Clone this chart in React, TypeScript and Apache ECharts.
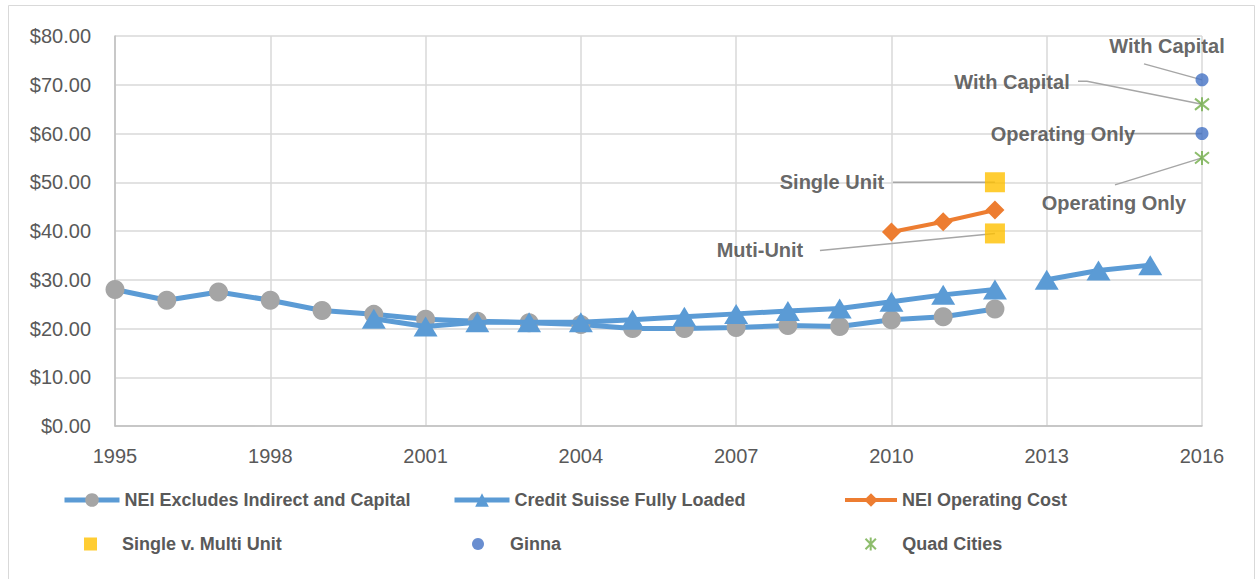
import React, { useEffect, useRef } from "react";
import * as echarts from "echarts";

// ---- Data ----
const neiExcludesYears = [1995, 1996, 1997, 1998, 1999, 2000, 2001, 2002, 2003, 2004, 2005, 2006, 2007, 2008, 2009, 2010, 2011, 2012];
const neiExcludesValues = [28.0, 25.8, 27.5, 25.8, 23.7, 22.9, 21.9, 21.5, 21.2, 20.8, 20.0, 20.0, 20.2, 20.6, 20.4, 21.8, 22.4, 24.0];

const creditSuisseYears = [2000, 2001, 2002, 2003, 2004, 2005, 2006, 2007, 2008, 2009, 2010, 2011, 2012];
const creditSuisseValues = [22.0, 20.4, 21.3, 21.3, 21.3, 21.8, 22.4, 23.0, 23.6, 24.1, 25.5, 26.9, 28.0];
const creditSuisseLaterYears = [2013, 2014, 2015];
const creditSuisseLaterValues = [30.0, 31.9, 33.0];

const neiOperatingYears = [2010, 2011, 2012];
const neiOperatingValues = [39.8, 41.9, 44.3];

const singleMultiYears = [2012, 2012];
const singleMultiValues = [50.0, 39.5];
const singleMultiLabels = ["Single Unit", "Muti-Unit"];

const ginnaYears = [2016, 2016];
const ginnaValues = [71, 60];
const ginnaLabels = ["With Capital", "Operating Only"];

const quadYears = [2016, 2016];
const quadValues = [66, 55];
const quadLabels = ["With Capital", "Operating Only"];

const seriesNames = [
  "NEI Excludes Indirect and Capital",
  "Credit Suisse Fully Loaded",
  "NEI Operating Cost",
  "Single v. Multi Unit",
  "Ginna",
  "Quad Cities",
];

// ---- Layout (label offsets and leader-line bends in px relative to the point) ----
const singleMultiOffsets = [[-163, 0], [-235, 17]];
const ginnaOffsets = [[-35, -34], [-139, 0]];
const quadOffsets = [[-190, -22], [-88, 45]];

const singleMultiLeaders = [[[-102, 0]], [[-175, 17]]];
const ginnaLeaders = [[[-58, -16]], [[-75, 0]]];
const quadLeaders = [[[-124, -23], [-115, -23]], [[-87, 27]]];

const pair = (xs: number[], ys: number[]) => xs.map((x, i) => [x, ys[i]]);
const labeled = (xs: number[], ys: number[], labels: string[]) =>
  xs.map((x, i) => ({ value: [x, ys[i]], name: labels[i] }));

const BLUE = "#5b9bd5";
const GREY = "#a5a5a5";
const ORANGE = "#ed7d31";
const YELLOW = "#ffc000";
const DBLUE = "#4472c4";
const GREEN = "#70ad47";
const FONT = "'Liberation Sans', Arial, sans-serif";

const dataLabel = {
  show: true,
  position: "inside" as const,
  formatter: "{b}",
  color: "#404040",
  fontFamily: FONT,
  fontWeight: "bold" as const,
  fontSize: 20,
};
const layoutFrom = (offs: number[][]) => (p: any) => ({ dx: offs[p.dataIndex][0], dy: offs[p.dataIndex][1] });

const asterisk = "path://M1,1L9,9M9,1L1,9M5,0L5,10";

export default function App() {
  const ref = useRef<HTMLDivElement>(null);
  useEffect(() => {
    if (!ref.current) return;
    const chart = echarts.init(ref.current, undefined, { renderer: "svg" });
    const legendText = { color: "#595959", fontFamily: FONT, fontWeight: "bold" as const, fontSize: 18 };
    const legendPos = [
      { left: 62, top: 491, w: 55, h: 17, pad: 0, lw: 5 },
      { left: 452, top: 491, w: 55, h: 17, pad: 0, lw: 5 },
      { left: 843, top: 491, w: 52, h: 17, pad: 0, lw: 4 },
      { left: 84, top: 535, w: 13, h: 13, pad: 20, lw: 0 },
      { left: 472, top: 535, w: 12, h: 12, pad: 21, lw: 0 },
      { left: 863, top: 535, w: 13, h: 13, pad: 20, lw: 0 },
    ];
    const option: any = {
      animation: false,
      backgroundColor: "#ffffff",
      grid: { left: 115, right: 55, top: 36, bottom: 153, containLabel: false },
      legend: legendPos.map((lp, i) => ({
        data: [seriesNames[i]],
        left: lp.left,
        top: lp.top,
        padding: 0,
        itemWidth: lp.w,
        itemHeight: lp.h,
        selectedMode: false,
        lineStyle: lp.lw ? { width: lp.lw } : undefined,
        textStyle: { ...legendText, padding: [0, 0, 0, lp.pad] },
      })),
      xAxis: {
        type: "value",
        min: 1995,
        max: 2016,
        interval: 3,
        axisLine: { show: true, lineStyle: { color: "#bfbfbf", width: 1.5 } },
        axisTick: { show: false },
        splitLine: { show: true, lineStyle: { color: "#d9d9d9", width: 1.5 } },
        axisLabel: { color: "#595959", fontFamily: FONT, fontSize: 20, margin: 20, formatter: (v: number) => String(v) },
      },
      yAxis: {
        type: "value",
        min: 0,
        max: 80,
        interval: 10,
        axisLine: { show: true, lineStyle: { color: "#bfbfbf", width: 1.5 } },
        axisTick: { show: false },
        splitLine: { show: true, lineStyle: { color: "#d9d9d9", width: 1.5 } },
        axisLabel: { color: "#595959", fontFamily: FONT, fontSize: 20, margin: 24, formatter: (v: number) => "$" + v.toFixed(2) },
      },
      series: [
        {
          name: seriesNames[0],
          type: "line",
          data: pair(neiExcludesYears, neiExcludesValues),
          lineStyle: { color: BLUE, width: 5 },
          itemStyle: { color: GREY },
          symbol: "circle",
          symbolSize: 19,
          z: 2,
        },
        {
          name: seriesNames[1],
          type: "line",
          data: pair(creditSuisseYears, creditSuisseValues),
          lineStyle: { color: BLUE, width: 5 },
          itemStyle: { color: BLUE },
          symbol: "triangle",
          symbolSize: [24, 20],
          z: 3,
        },
        {
          name: seriesNames[1],
          type: "line",
          data: pair(creditSuisseLaterYears, creditSuisseLaterValues),
          lineStyle: { color: BLUE, width: 5 },
          itemStyle: { color: BLUE },
          symbol: "triangle",
          symbolSize: [24, 20],
          z: 3,
        },
        {
          name: seriesNames[2],
          type: "line",
          data: pair(neiOperatingYears, neiOperatingValues),
          lineStyle: { color: ORANGE, width: 4 },
          itemStyle: { color: ORANGE },
          symbol: "diamond",
          symbolSize: 19,
          z: 3,
        },
        {
          name: seriesNames[3],
          type: "scatter",
          data: labeled(singleMultiYears, singleMultiValues, singleMultiLabels),
          itemStyle: { color: YELLOW },
          symbol: "rect",
          symbolSize: 20,
          label: dataLabel,
          labelLayout: layoutFrom(singleMultiOffsets),
          z: 4,
        },
        {
          name: seriesNames[4],
          type: "scatter",
          data: labeled(ginnaYears, ginnaValues, ginnaLabels),
          itemStyle: { color: DBLUE },
          symbol: "circle",
          symbolSize: 13,
          label: dataLabel,
          labelLayout: layoutFrom(ginnaOffsets),
          z: 4,
        },
        {
          name: seriesNames[5],
          type: "scatter",
          data: labeled(quadYears, quadValues, quadLabels),
          itemStyle: { color: "none", borderColor: GREEN, borderWidth: 2 },
          symbol: asterisk,
          symbolSize: 14,
          label: dataLabel,
          labelLayout: layoutFrom(quadOffsets),
          z: 4,
        },
      ],
    };
    chart.setOption(option);

    // leader lines, anchored on points placed by the chart's own scales
    const groups: [number[], number[], number[][][]][] = [
      [singleMultiYears, singleMultiValues, singleMultiLeaders],
      [ginnaYears, ginnaValues, ginnaLeaders],
      [quadYears, quadValues, quadLeaders],
    ];
    const graphics: any[] = [
      {
        type: "rect",
        shape: { x: 8.5, y: 5.5, width: 1246, height: 600 },
        style: { fill: "none", stroke: "#d9d9d9", lineWidth: 1 },
        silent: true,
      },
    ];
    groups.forEach(([xs, ys, leaders]) => {
      xs.forEach((x, i) => {
        const p = chart.convertToPixel({ gridIndex: 0 }, [x, ys[i]]) as number[];
        const pts = leaders[i].map((o) => [p[0] + o[0], p[1] + o[1]]);
        pts.push([p[0], p[1]]);
        graphics.push({
          type: "polyline",
          shape: { points: pts },
          style: { stroke: "#a6a6a6", lineWidth: 1.5, fill: "none" },
          silent: true,
          z: 1,
        });
      });
    });
    chart.setOption({ graphic: graphics });
    return () => chart.dispose();
  }, []);
  return (
    <div
      ref={ref}
      style={{ position: "absolute", left: 0, top: 0, width: 1257, height: 579 }}
    />
  );
}
